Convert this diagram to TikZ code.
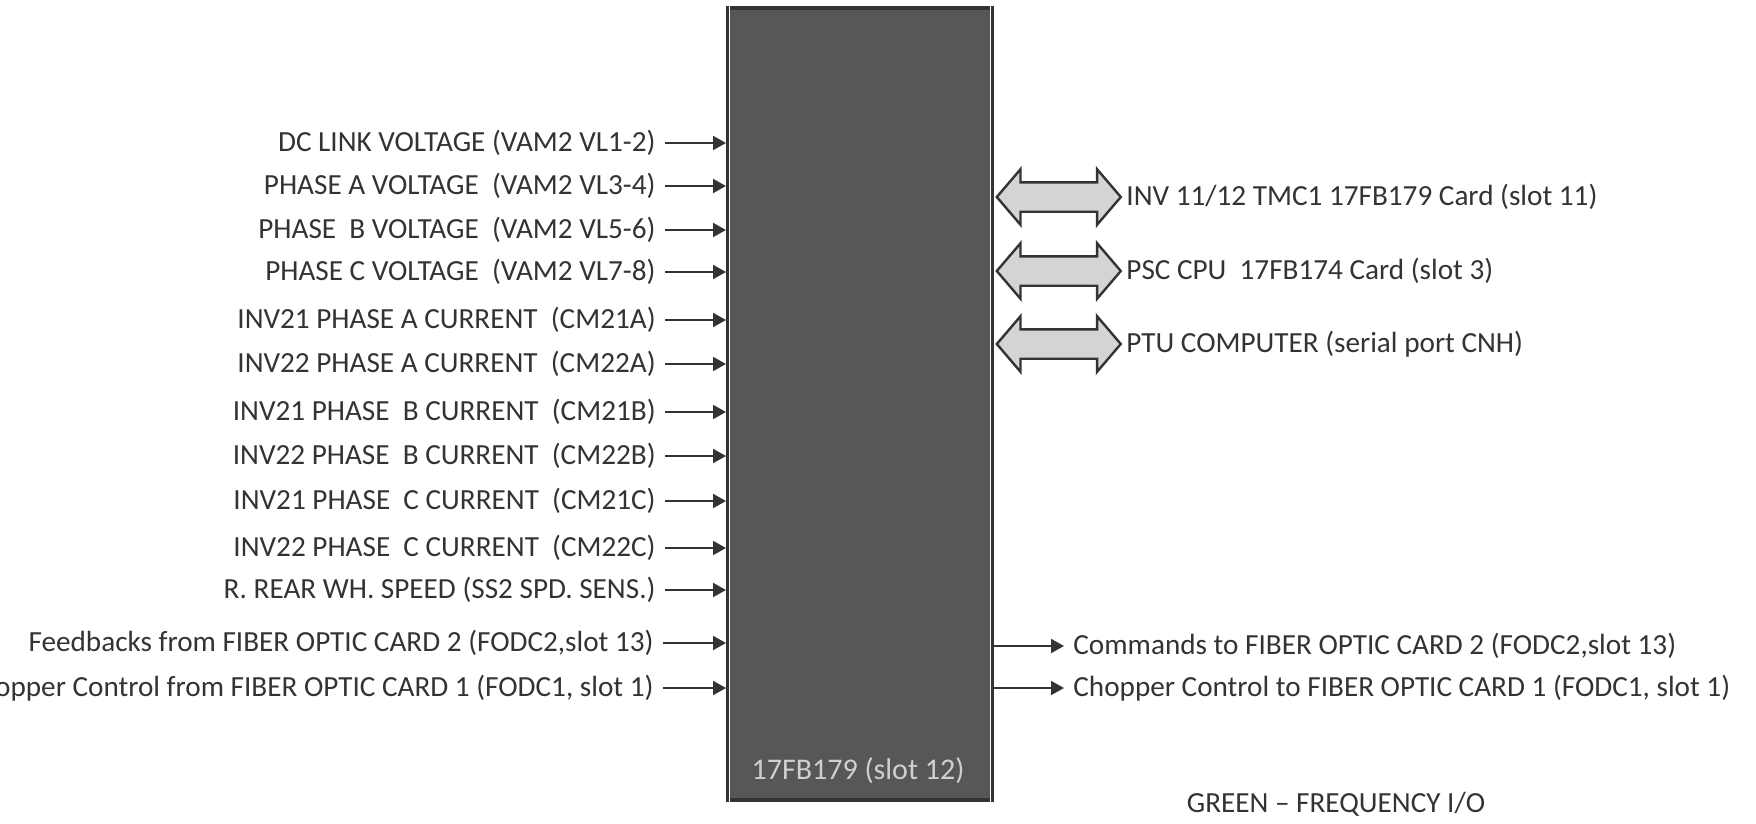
\documentclass[tikz,border=0pt]{standalone}
\usepackage{fontspec}
\setmainfont{Carlito}
\usepackage{tikz}
\usetikzlibrary{arrows.meta,positioning,calc,shapes.arrows}
\definecolor{InkGray}{HTML}{333333}
\definecolor{CardFill}{HTML}{575757}
\definecolor{BusFill}{HTML}{D4D4D4}
\definecolor{LabelGray}{HTML}{CFCFCF}
\tikzset{
  card/.style={draw=InkGray,line width=2pt,fill=CardFill,inner sep=0pt,
               minimum width=132pt,minimum height=396pt},
  cardlabel/.style={font=\fontsize{15}{18}\selectfont,text=LabelGray},
  sig/.style={font=\fontsize{14.6}{17}\selectfont,text=InkGray,inner xsep=4.5pt,inner ysep=2pt},
  insig/.style={sig,anchor=east},
  outsig/.style={sig,anchor=west},
  flow/.style={-{Triangle[length=6.5pt,width=7pt]},line width=1pt,draw=InkGray},
  bus/.style={double arrow,draw=InkGray,line width=1.2pt,fill=BusFill,inner sep=0pt,
              text height=13.5pt,text depth=0pt,minimum height=62pt,
              double arrow head extend=6.5pt,double arrow tip angle=99,anchor=west},
  note/.style={font=\fontsize{14.6}{17}\selectfont,text=InkGray}
}
\begin{document}
\begin{tikzpicture}[x=0.5pt,y=-0.5pt]
  \useasboundingbox (0,0) rectangle (1756,824);
  \node[card] (card) at (860,404) {};
  \draw[white,line width=0.6pt] ([shift={(3.5,-3.5)}]card.north west) rectangle ([shift={(-3.5,3.5)}]card.south east);
  \node[cardlabel] (slot) at (858,771) {17FB179 (slot 12)};

  % inputs
  \node[insig] (dclink) at (665,143) {DC LINK VOLTAGE (VAM2 VL1-2)};
  \node[insig] (phasea) at (665,186) {PHASE A VOLTAGE\ \ (VAM2 VL3-4)};
  \node[insig] (phaseb) at (665,230) {PHASE\ \ B VOLTAGE\ \ (VAM2 VL5-6)};
  \node[insig] (phasec) at (665,272) {PHASE C VOLTAGE\ \ (VAM2 VL7-8)};
  \node[insig] (inva21) at (665,320) {INV21 PHASE A CURRENT\ \ (CM21A)};
  \node[insig] (inva22) at (665,364) {INV22 PHASE A CURRENT\ \ (CM22A)};
  \node[insig] (invb21) at (665,412) {INV21 PHASE\ \ B CURRENT\ \ (CM21B)};
  \node[insig] (invb22) at (665,456) {INV22 PHASE\ \ B CURRENT\ \ (CM22B)};
  \node[insig] (invc21) at (665,501) {INV21 PHASE\ \ C CURRENT\ \ (CM21C)};
  \node[insig] (invc22) at (665,548) {INV22 PHASE\ \ C CURRENT\ \ (CM22C)};
  \node[insig] (speed) at (665,590) {R. REAR WH. SPEED (SS2 SPD. SENS.)};
  \node[insig] (fbfodc) at (663,643) {Feedbacks from FIBER OPTIC CARD 2 (FODC2,slot 13)};
  \node[insig] (chopin) at (663,688) {Chopper Control from FIBER OPTIC CARD 1 (FODC1, slot 1)};

  \draw[flow] (dclink) -- (dclink -| card.west);
  \draw[flow] (phasea) -- (phasea -| card.west);
  \draw[flow] (phaseb) -- (phaseb -| card.west);
  \draw[flow] (phasec) -- (phasec -| card.west);
  \draw[flow] (inva21) -- (inva21 -| card.west);
  \draw[flow] (inva22) -- (inva22 -| card.west);
  \draw[flow] (invb21) -- (invb21 -| card.west);
  \draw[flow] (invb22) -- (invb22 -| card.west);
  \draw[flow] (invc21) -- (invc21 -| card.west);
  \draw[flow] (invc22) -- (invc22 -| card.west);
  \draw[flow] (speed) -- (speed -| card.west);
  \draw[flow] (fbfodc) -- (fbfodc -| card.west);
  \draw[flow] (chopin) -- (chopin -| card.west);

  % serial links
  \node[outsig] (tmc) at (1117,197) {INV 11/12 TMC1 17FB179 Card (slot 11)};
  \node[outsig] (psc) at (1117,271) {PSC CPU\ \ 17FB174 Card (slot 3)};
  \node[outsig] (ptu) at (1117,344) {PTU COMPUTER (serial port CNH)};
  \node[bus] (tmcbus) at ([xshift=0.6pt]card.east |- tmc.west) {};
  \node[bus] (pscbus) at ([xshift=0.6pt]card.east |- psc.west) {};
  \node[bus] (ptubus) at ([xshift=0.6pt]card.east |- ptu.west) {};

  % outputs
  \node[outsig] (cmdout) at (1064,646) {Commands to FIBER OPTIC CARD 2 (FODC2,slot 13)};
  \node[outsig] (chopout) at (1064,688) {Chopper Control to FIBER OPTIC CARD 1 (FODC1, slot 1)};
  \draw[flow] (cmdout -| card.east) -- (cmdout);
  \draw[flow] (chopout -| card.east) -- (chopout);

  \node[note] (legend) at (1336,804) {GREEN -- FREQUENCY I/O};
\end{tikzpicture}
\end{document}
